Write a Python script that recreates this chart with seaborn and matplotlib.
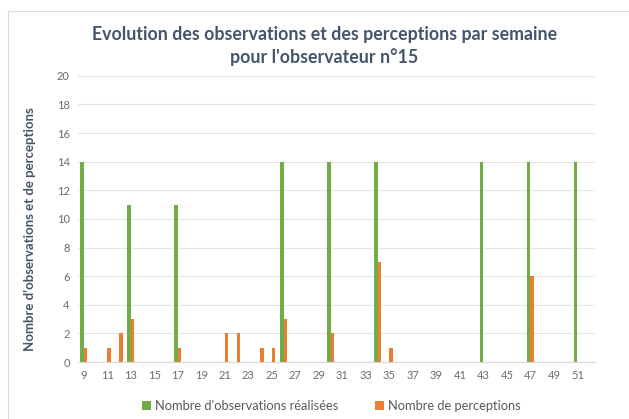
import pandas as pd
import matplotlib.pyplot as plt
import seaborn as sns
from matplotlib.patches import Rectangle

# Données (semaines 9 à 52)
semaines = list(range(9, 53))
observations = [14, 0, 0, 0, 11, 0, 0, 0, 11, 0, 0, 0, 0, 0, 0, 0, 0, 14, 0, 0, 0, 14,
                0, 0, 0, 14, 0, 0, 0, 0, 0, 0, 0, 0, 14, 0, 0, 0, 14, 0, 0, 0, 14, 0]
perceptions = [1, 0, 1, 2, 3, 0, 0, 0, 1, 0, 0, 0, 2, 2, 0, 1, 1, 3, 0, 0, 0, 2,
               0, 0, 0, 7, 1, 0, 0, 0, 0, 0, 0, 0, 0, 0, 0, 0, 6, 0, 0, 0, 0, 0]
series = ["Nombre d'observations réalisées", "Nombre de perceptions"]
couleurs = ["#70AD47", "#ED7D31"]

df = pd.DataFrame({
    'Semaine': semaines * 2,
    'Valeur': observations + perceptions,
    'Serie': [series[0]] * len(semaines) + [series[1]] * len(semaines),
})

sns.set_style('white')
plt.rcParams['font.family'] = ['Lato', 'DejaVu Sans']

fig = plt.figure(figsize=(6.29, 4.19), dpi=100)
ax = fig.add_axes([0.124, 0.136, 0.822, 0.683])

sns.barplot(data=df, x='Semaine', y='Valeur', hue='Serie', order=semaines,
            hue_order=series, palette=couleurs, saturation=1, width=0.6, gap=0,
            linewidth=0, ax=ax)

# bordure du graphique
fig.patches.append(Rectangle((8 / 629, -0.1), 1.0, (419 - 11) / 419 + 0.1,
                             transform=fig.transFigure, fill=False,
                             edgecolor='#D9D9D9', linewidth=0.8))

ax.set_ylim(0, 20)
ax.set_yticks(range(0, 21, 2))
ax.set_xlim(-0.5, len(semaines) - 0.5)
ax.set_xticks(range(0, len(semaines), 2))
ax.set_xticklabels([str(s) for s in semaines[::2]])
ax.tick_params(axis='both', labelsize=8, colors='#6B6B6B', length=0, pad=6)
ax.yaxis.grid(True, color='#E4E4E4', linewidth=0.8)
ax.set_axisbelow(True)
for s in ['top', 'right', 'left']:
    ax.spines[s].set_visible(False)
ax.spines['bottom'].set_color('#D9D9D9')

ax.set_xlabel('')
ax.set_ylabel("Nombre d'observations et de perceptions", fontsize=9.5,
              fontweight='bold', color='#44546A')
ax.yaxis.set_label_coords(-0.082, 0.465)
fig.text(0.516, 0.89, "Evolution des observations et des perceptions par semaine\npour l'observateur n°15",
         ha='center', va='center', fontsize=12.8, fontweight='bold',
         color='#44546A', linespacing=1.3)

leg = ax.legend(loc='center', bbox_to_anchor=(0.49, -0.155), ncol=2, frameon=False,
                fontsize=9.3, handlelength=0.7, handleheight=0.7,
                handletextpad=0.3, columnspacing=2.8)
for t in leg.get_texts():
    t.set_color('#595959')

plt.savefig('out.png', dpi=100)
